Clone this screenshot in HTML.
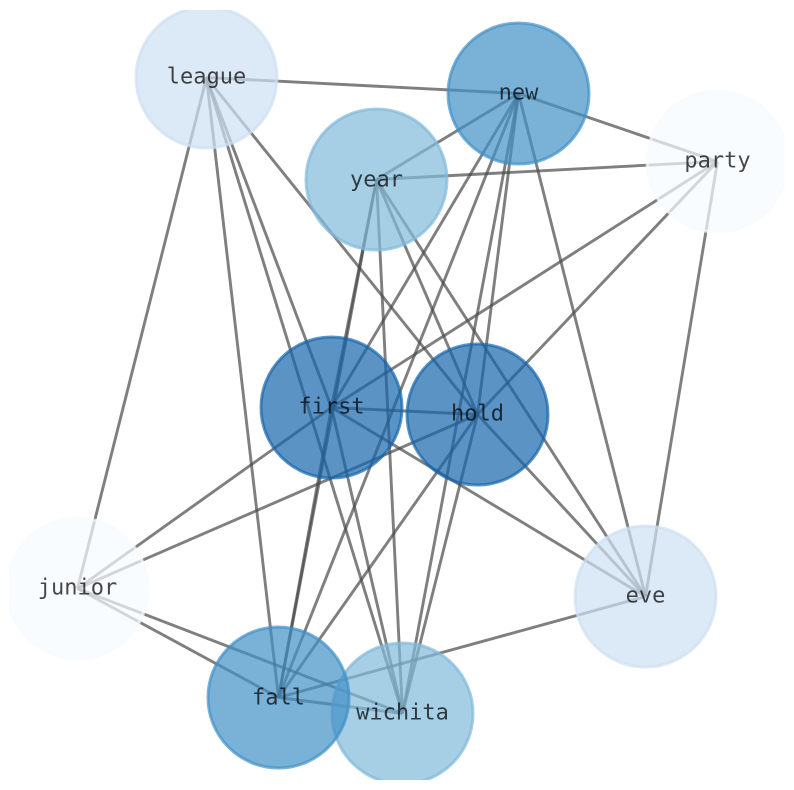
<!DOCTYPE html>
<html><head><meta charset="utf-8"><style>html,body{margin:0;padding:0;background:#fff}svg{display:block}text{font-family:"DejaVu Sans Mono",monospace;font-size:22px;text-anchor:middle;fill:#000;fill-opacity:.72}</style></head><body>
<svg width="794" height="790" viewBox="0 0 794 790" xmlns="http://www.w3.org/2000/svg">
<defs><clipPath id="c"><rect x="9" y="10" width="776" height="770"/></clipPath></defs>
<g clip-path="url(#c)">
<g transform="translate(.5 .5)">
<g stroke="#494949" stroke-opacity=".7" stroke-width="2.9" fill="none">
<line x1="206" y1="77" x2="518" y2="93"/>
<line x1="206" y1="77" x2="77" y2="588"/>
<line x1="206" y1="77" x2="278" y2="697"/>
<line x1="206" y1="77" x2="331" y2="407"/>
<line x1="206" y1="77" x2="402" y2="713"/>
<line x1="206" y1="77" x2="477" y2="414"/>
<line x1="518" y1="93" x2="717" y2="161"/>
<line x1="518" y1="93" x2="376" y2="179"/>
<line x1="518" y1="93" x2="331" y2="407"/>
<line x1="518" y1="93" x2="278" y2="697"/>
<line x1="518" y1="93" x2="477" y2="414"/>
<line x1="518" y1="93" x2="402" y2="713"/>
<line x1="518" y1="93" x2="645" y2="596"/>
<line x1="717" y1="161" x2="376" y2="179"/>
<line x1="717" y1="161" x2="331" y2="407"/>
<line x1="717" y1="161" x2="477" y2="414"/>
<line x1="717" y1="161" x2="645" y2="596"/>
<line x1="376" y1="179" x2="331" y2="407"/>
<line x1="376" y1="179" x2="278" y2="697"/>
<line x1="376" y1="179" x2="402" y2="713"/>
<line x1="376" y1="179" x2="477" y2="414"/>
<line x1="376" y1="179" x2="645" y2="596"/>
<line x1="331" y1="407" x2="477" y2="414"/>
<line x1="331" y1="407" x2="77" y2="588"/>
<line x1="331" y1="407" x2="645" y2="596"/>
<line x1="331" y1="407" x2="278" y2="697"/>
<line x1="331" y1="407" x2="402" y2="713"/>
<line x1="477" y1="414" x2="77" y2="588"/>
<line x1="477" y1="414" x2="645" y2="596"/>
<line x1="477" y1="414" x2="278" y2="697"/>
<line x1="477" y1="414" x2="402" y2="713"/>
<line x1="77" y1="588" x2="278" y2="697"/>
<line x1="77" y1="588" x2="402" y2="713"/>
<line x1="645" y1="596" x2="278" y2="697"/>
<line x1="278" y1="697" x2="402" y2="713"/>
</g>
<g stroke-width="3" fill-opacity=".7" stroke-opacity=".7">
<circle cx="206" cy="77" r="70.5" fill="#cde0f2" stroke="#cde0f2"/>
<circle cx="518" cy="93" r="70.5" fill="#4090c6" stroke="#4090c6"/>
<circle cx="717" cy="161" r="70.5" fill="#f7fbff" stroke="#f7fbff"/>
<circle cx="376" cy="179" r="70.5" fill="#80b9da" stroke="#80b9da"/>
<circle cx="331" cy="407" r="70.5" fill="#1565ab" stroke="#1565ab"/>
<circle cx="477" cy="414" r="70.5" fill="#1565ab" stroke="#1565ab"/>
<circle cx="77" cy="588" r="70.5" fill="#f7fbff" stroke="#f7fbff"/>
<circle cx="645" cy="596" r="70.5" fill="#cde0f2" stroke="#cde0f2"/>
<circle cx="402" cy="713" r="70.5" fill="#80b9da" stroke="#80b9da"/>
<circle cx="278" cy="697" r="70.5" fill="#4090c6" stroke="#4090c6"/>
</g>
<text x="206" y="83">league</text>
<text x="518" y="99">new</text>
<text x="717" y="167">party</text>
<text x="376" y="186">year</text>
<text x="331" y="413">first</text>
<text x="477" y="420">hold</text>
<text x="77" y="594">junior</text>
<text x="645" y="602">eve</text>
<text x="278" y="704">fall</text>
<text x="402" y="719">wichita</text>
</g>
</g>
</svg>
</body></html>
